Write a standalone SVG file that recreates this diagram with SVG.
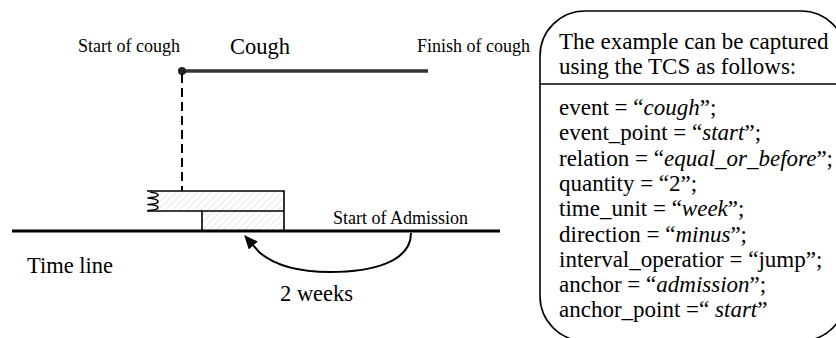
<svg xmlns="http://www.w3.org/2000/svg" width="836" height="338" viewBox="0 0 836 338">
<style>
text{font-family:"Liberation Serif","Times New Roman",serif;fill:#000}
.sm{font-size:18px}
.lg{font-size:22.5px}
.tcs{font-size:23px}
.it{font-style:italic}
.ln{stroke:#000;fill:none}
</style>
<defs>
<pattern id="hatch" patternUnits="userSpaceOnUse" width="5" height="5" patternTransform="rotate(45)">
<line x1="0" y1="0" x2="0" y2="5" stroke="#cfcfcf" stroke-width="1"/>
</pattern>
<marker id="ah" markerUnits="userSpaceOnUse" markerWidth="14" markerHeight="12" refX="2" refY="6" orient="auto" viewBox="0 0 14 12">
<path d="M0,0 L14,6 L0,12 z" fill="#000"/>
</marker>
</defs>
<rect width="836" height="338" fill="#fff"/>

<g id="cough">
<text class="sm" x="78" y="52">Start of cough</text>
<text class="lg" x="230" y="54">Cough</text>
<text class="sm" x="417" y="52">Finish of cough</text>
<line x1="182" y1="71" x2="428" y2="71" stroke="#333" stroke-width="3.4"/>
<circle cx="182" cy="71" r="4" fill="#222"/>
</g>

<g id="admission-block">
<rect x="150" y="191" width="134" height="20" fill="url(#hatch)"/>
<rect x="202" y="211" width="82" height="19" fill="url(#hatch)"/>
<path class="ln" stroke-width="1.6" d="M147,191 L284,191 L284,230 M147,211 L284,211 M202,211 L202,230"/>
<path class="ln" stroke-width="1.6" stroke-linejoin="round" d="M150,192 Q158,193 158,195 Q158,197 148,198 Q158,199 158,201.5 Q158,204 148,204.5 Q158,205 158,207.5 Q158,210 148,210.5"/>
</g>

<g id="timeline">
<line x1="12" y1="231" x2="500" y2="231" stroke="#000" stroke-width="3"/>
<text class="lg" x="27" y="273">Time line</text>
<text class="sm" x="333" y="224">Start of Admission</text>
</g>

<g id="connectors">
<line class="ln" x1="182" y1="74" x2="182" y2="191" stroke-width="2" stroke-dasharray="9,5"/>
<path class="ln" stroke-width="2" d="M411,233 C411,262 372,272 330,272 C300,272 275,266 259,252 L252,244" marker-end="url(#ah)"/>
<text class="lg" x="280" y="301">2 weeks</text>
</g>

<g id="tcs-box">
<rect x="540" y="11" width="306" height="330" rx="45" ry="45" fill="#fff" stroke="#000" stroke-width="1.6"/>
<line x1="540" y1="84" x2="836" y2="84" stroke="#000" stroke-width="1.6"/>
<text class="tcs" x="559" y="49">The example can be captured</text>
<text class="tcs" x="559" y="74">using the TCS as follows:</text>
<text class="tcs" x="559" y="115">event = “<tspan class="it">cough</tspan>”;</text>
<text class="tcs" x="559" y="140.3">event_point = “<tspan class="it">start</tspan>”;</text>
<text class="tcs" x="559" y="165.6">relation = “<tspan class="it">equal_or_before</tspan>”;</text>
<text class="tcs" x="559" y="190.9">quantity = “2”;</text>
<text class="tcs" x="559" y="216.2">time_unit = “<tspan class="it">week</tspan>”;</text>
<text class="tcs" x="559" y="241.5">direction = “<tspan class="it">minus</tspan>”;</text>
<text class="tcs" x="559" y="266.8">interval_operatior = “jump”;</text>
<text class="tcs" x="559" y="292.1">anchor = “<tspan class="it">admission</tspan>”;</text>
<text class="tcs" x="559" y="317.4">anchor_point =“ <tspan class="it">start</tspan>”</text>
</g>
</svg>
